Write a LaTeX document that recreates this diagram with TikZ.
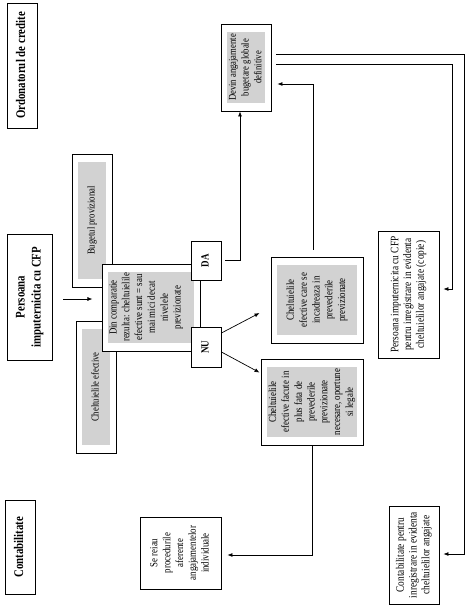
\documentclass[tikz,border=0pt]{standalone}
\usepackage{fontspec}
\setmainfont{Liberation Serif}
\usepackage{tikz}
\usetikzlibrary{positioning,calc,arrows.meta}
\newcommand{\rtxt}[2][9]{\rotatebox{90}{\scalebox{0.82}[1]{\fontsize{#1}{12.8}\selectfont\begin{tabular}{@{}c@{}}#2\end{tabular}}}}
\newcommand{\rhead}[1]{\rotatebox{90}{\scalebox{0.82}[1]{\fontsize{13.2}{16}\selectfont\bfseries\begin{tabular}{@{}c@{}}#1\end{tabular}}}}

\begin{document}
\begin{tikzpicture}
           [x=1pt,y=-1pt,
            box/.style = {draw,line width=0.9pt,fill=white,inner sep=1pt},
            gbox/.style = {box,path picture={\fill[gray!35] ([shift={(6pt,-8pt)}]path picture bounding box.north west) rectangle ([shift={(-6pt,8pt)}]path picture bounding box.south east);}},
            arr/.style = {-{Latex[length=5pt,width=4pt]},line width=0.7pt}]
            \useasboundingbox (0,0) rectangle (472,610);

            \node[box,minimum width=30pt,minimum height=125pt] (ord) at (22,65.5) {\rhead{Ordonatorul de credite}};
            \node[box,minimum width=45pt,minimum height=126pt] (pers) at (29.5,297) {\rhead{Persoana\\imputernicita cu CFP}};
            \node[box,minimum width=30pt,minimum height=94pt] (contab) at (20,547) {\rhead{Contabilitate}};

            \node[gbox,minimum width=40pt,minimum height=133pt] (buget) at (92,220.5) {\rtxt[10.5]{Bugetul provizional}};
            \node[gbox,minimum width=40pt,minimum height=132pt] (chelt) at (96,387) {\rtxt[10.5]{Cheltuielile efective}};
            \node[gbox,minimum width=98pt,minimum height=87pt] (comp) at (151,307.5) {\rtxt[10.8]{Din comparatie\\rezulta: cheltuielile\\efective sunt = sau\\mai mici decat\\nivelele\\previzionate}\hspace*{10pt}};
            \node[box,minimum width=30pt,minimum height=39pt] (da) at (206,260.5) {\rtxt[11]{\bfseries DA}};
            \node[box,minimum width=30pt,minimum height=40pt] (nu) at (206,347) {\rtxt[11]{\bfseries NU}};

            \node[gbox,minimum width=50pt,minimum height=87pt] (dev) at (246,67.5) {\rtxt[10.5]{Devin angajamente\\bugetare globale\\definitive}};
            \node[gbox,minimum width=92pt,minimum height=86pt] (incad) at (317,300) {\rtxt[10.8]{Cheltuielile\\efective care se\\incadreaza in\\prevederile\\previzionate}};
            \node[gbox,minimum width=102pt,minimum height=86pt] (plus) at (312,402) {\rtxt[10.8]{Cheltuielile\\efective facute in\\plus fata de\\prevederile\\previzionate\\necesare, oportune\\si legale}};
            \node[box,minimum width=81pt,minimum height=72pt] (reiau) at (180.5,553) {\rtxt[10.8]{Se reiau\\procedurile\\aferente\\angajamentelor\\individuale}};
            \node[box,minimum width=61pt,minimum height=127pt] (copie) at (408.5,294.5) {\rtxt[11.4]{Persoana imputernicita cu CFP\\pentru inregistrare in evidenta\\cheltuielilor angajate (copie)}};
            \node[box,minimum width=50pt,minimum height=98pt] (ctb) at (414,555) {\rtxt[11.4]{Contabilitate pentru\\inregistrare in evidenta\\cheltuielilor angajate}};

            \draw[arr] ($(pers.east)+(11,2)$) -- ($(pers.east)+(40,2)$);
            \draw[arr] ($(da.east)+(4,0)$) -| ($(dev.south)+(-6,0)$);
            \draw[arr] ($(nu.east)+(0,-14)$) -- ($(incad.west)+(-11,13)$);
            \draw[arr] ($(nu.east)+(0,5)$) -- ($(plus.north west)+(-1,14)$);
            \draw[arr] ($(incad.north)+(-4,-7)$) |- ($(dev.east)+(6,16.5)$);
            \draw[arr] ($(dev.east)+(5,-3.5)$) -| ($(copie.east)+(13,-5.5)$) -- ($(copie.east)+(4,-5.5)$);
            \draw[arr] ($(dev.east)+(5,-13.5)$) -| ($(ctb.east)+(25,-1)$) -- ($(ctb.east)+(4,-1)$);
            \draw[arr] (plus.south) |- ($(reiau.east)+(6,2)$);
        \end{tikzpicture}
\end{document}
